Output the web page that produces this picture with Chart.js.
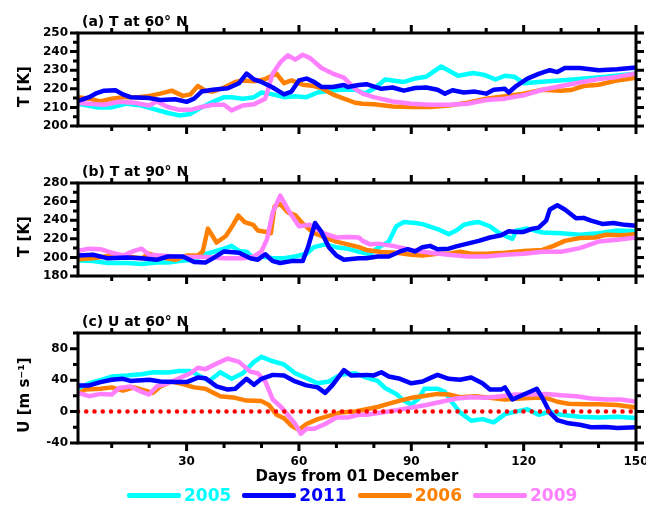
<!DOCTYPE html>
<html lang="en">
<head>
  <meta charset="UTF-8">
  <title>T and U, winters 2005-2011</title>
  <script src="https://cdn.jsdelivr.net/npm/chart.js"></script>
  <style>
    body { margin: 0; background: #fff; font-family: "DejaVu Sans", sans-serif; }
    #wrap { position: relative; width: 646px; height: 506px; overflow: hidden; }
    canvas { position: absolute; left: 0; }
    #legend { position: absolute; left: 127px; top: 485px; display: flex; align-items: center; font-weight: bold; font-size: 17px; }
    .item { display: flex; align-items: center; margin-right: 11px; }
    .item i { display: inline-block; width: 54px; height: 5px; margin-right: 3px; border-radius: 2px; }
  </style>
</head>
<body>
  <div id="wrap">
    <canvas id="panelA" width="646" height="160" style="top:0"></canvas>
    <canvas id="panelB" width="646" height="160" style="top:150px"></canvas>
    <canvas id="panelC" width="646" height="190" style="top:300px"></canvas>
    <div id="legend"></div>
  </div>

  <script>
    // days from 01 December
    const xMin = 1, xMax = 150;
    const xLabels = [30, 60, 90, 120, 150];
    const xMarks = [10, 20, 30, 40, 50, 60, 70, 80, 90, 100, 110, 120, 130, 140, 150];

    const years = ["2005", "2011", "2006", "2009"];
    const colors = ["#00FFFF", "#0000FF", "#FF8000", "#FF80FF"];
    const drawOrder = [3, 0, 2, 1]; // blue on top, cyan at the bottom

    // (a) T at 60N  [day, K]
    const t60_2005 = [[1,212],[6,210],[10,210],[14,212],[18,211],[22,208.7],[25,207],[28,205.7],[31,206.5],[34,210],[37,213],[40,215.5],[42,215.5],[45,214.7],[48,215.5],[50,218],[53,217],[56,215.5],[59,216],[62,215.5],[65,218],[68,219],[71,219.5],[75,219.5],[77.5,217.5],[80,220],[83,225],[88,223.7],[91,225.5],[94,226.5],[98,232],[102.5,227],[106.5,228.5],[109.5,227.5],[112.5,225],[115,227],[117.5,226.5],[120,223],[124,223.7],[133,225],[142,226.5],[150,228.2]];
    const t60_2011 = [[1,213.5],[4,215.5],[6,217.7],[8,219],[11,219.2],[13,217],[15,215.5],[20,215],[23,214],[27,214.4],[30,213],[32,214.7],[34,218.5],[37,219.5],[41,220.3],[44,223],[46,228.2],[48,225],[50,223.7],[53,220.7],[56,217],[58,218.5],[60,224.5],[62,225.5],[64,223.7],[66,221],[69,221],[72,222],[73,221],[76,222],[78,222.5],[82,220],[85,220.7],[88,219],[91,220.4],[94,220.7],[97,219.5],[99,217.4],[101,219.2],[104,218],[107,218.5],[110,217.4],[112,219.5],[115,220],[116,218],[118,221.5],[121,225.5],[124,228],[127,230],[129,229],[131,231.2],[135,231.2],[140,230],[145,230.5],[150,231.5]];
    const t60_2006 = [[1,215.5],[4,214.7],[7,213.2],[10,214.7],[13,215.5],[17,215.5],[20,216.2],[23,217.4],[26,219],[29,216.2],[31,217],[33,221.5],[35,219],[37,218.5],[40,220.7],[43,223.7],[45,224.5],[48,224],[51,225.2],[54,228.2],[56,223],[58,224.5],[61,222.2],[64,221.5],[66,220.4],[69,217],[72,214.7],[75,212.5],[77,212],[80,211.7],[85,210.5],[90,210.2],[95,210.2],[100,211],[105,212.5],[110,214.7],[115,216],[120,217.4],[125,219.5],[130,219],[133,219.5],[136,221.5],[140,222.2],[145,224.5],[150,226]];
    const t60_2009 = [[1,212.5],[4,212],[8,211.4],[12,213],[16,212.5],[20,211],[22,213.2],[25,210.2],[28,208.7],[31,208.7],[34,210.2],[37,211.4],[40,211.4],[42,208.4],[45,211],[48,211.7],[51,214.7],[53,228.2],[55,234.2],[57,238],[59,235.7],[61,238.3],[63,236.5],[66,231.2],[69,228.2],[72,226],[75,220],[77,217.4],[80,215.5],[85,213.2],[90,212],[95,211.4],[100,211.4],[105,212],[110,214],[115,214.7],[120,216.5],[125,219.5],[130,221.5],[135,223.4],[140,225.2],[145,226.4],[150,228.2]];

    // (b) T at 90N  [day, K]
    const t90_2005 = [[1,196.8],[5,196],[9,194],[14,194],[18,193],[22,194.4],[25,194.4],[28,196],[32,197.4],[35,203.4],[37,205.8],[40,209.4],[42,212.4],[44,207],[46,206],[48,199],[50,201],[53,199],[56,199],[59,201],[62,204],[64,211],[67,214],[70,211],[73,209.4],[76,206],[79,203.4],[81,210],[84,217],[86,233.5],[88,238],[91,237],[93,235.8],[97,230.5],[100,225],[102,229],[104,235],[106,237],[108,238],[111,233.5],[113,227.4],[116,221.4],[117,220],[118,229],[121,231],[125,226.8],[130,226],[135,224.4],[140,226],[145,229],[150,228]];
    const t90_2011 = [[1,202],[5,202.8],[9,199],[14,200],[18,199],[22,197.4],[25,201],[29,201],[32,195],[35,194.4],[37,199],[40,206.4],[44,205],[47,199],[49,197.4],[51,203.4],[53,196],[55,194],[58,196],[61,196],[62.5,212],[64.3,237],[66,227.4],[68,211],[70,202],[72,197.4],[76,199],[78,199],[81,201],[84,201],[87,206.4],[89,208.8],[91,206.4],[93,211],[95,212.4],[97,208.8],[100,209.4],[102,211.8],[105,214.8],[108,217.8],[111,221.4],[114,223.8],[116,228],[118,227.4],[120,227.4],[122,230.5],[124,232],[126,239.5],[127,251.5],[129,256],[131,251.5],[134,242],[136,242.5],[138,239.5],[141,236],[144,237],[147,235],[150,234]];
    const t90_2006 = [[1,198],[5,199],[10,202],[14,201],[18,199],[20,204],[23,200],[27,197.4],[30,202],[33,202],[34.3,206.4],[35.7,231],[38,216],[40.5,223],[42.4,235],[43.8,245],[45.5,238],[47.8,235],[49,229],[51.3,227.4],[52.5,226],[53.5,255],[55,257.5],[57,248.5],[59,245.5],[61,236.5],[64,226],[67,221.4],[70,217],[73,214],[76,211],[78,208],[82,205.8],[86,205],[90,202.8],[93,202],[97,204],[100,204],[103,206],[106,204],[110,204],[115,205],[120,207],[125,208],[128,212.4],[131,217.8],[135,220.8],[139,221.4],[142,224.4],[146,223.8],[150,225]];
    const t90_2009 = [[1,207],[4,209.4],[7,208.8],[10,205],[13,202],[16,207],[18,209.4],[20,202.8],[23,202],[27,201],[30,200.4],[35,200.4],[40,199],[45,199],[48,201],[50,206.4],[51.5,220],[53,248.5],[55,266.5],[57.5,248.5],[60,233.5],[63,235],[66.5,226],[70,221.4],[73,222],[76,221.4],[77,217.8],[79,214],[81,214.8],[85,212.4],[90,208],[95,205],[100,202.8],[105,201],[110,201],[115,202.8],[120,204],[125,206],[130,206],[135,210],[140,217],[145,219],[150,221.4]];

    // (c) U at 60N  [day, m/s]
    const u60_2005 = [[1,29],[4,36],[7,40],[10,44.6],[14,45.8],[18,47.5],[21,50],[25,49.6],[28,51.7],[31,51.7],[33,46.7],[36,39],[39,50],[42,41.7],[45,48.8],[48,63.3],[50,69.6],[53,64],[56,60],[59,48.8],[62,42.5],[65,36],[68,38.3],[71,46.7],[75,48.8],[78,43.3],[81,39],[83,30],[86,22.5],[88,14],[90,9],[92,16.7],[93.5,29],[97,29],[99,25],[101,11],[103,-1],[106,-11.7],[109,-9.6],[112,-13.7],[115,-3.3],[118,0],[121,3],[124,-4],[127,0],[130,-4],[135,-6.7],[140,-7.5],[145,-6.7],[150,-8.3]];
    const u60_2011 = [[1,33.3],[4,33.3],[7,37.5],[10,40.4],[13,41.7],[15,39],[20,40.4],[23,38.3],[27,37.5],[30,37.5],[33,43.3],[35,42.5],[38,32],[41,28],[43,29],[46,41.7],[48,34],[50,41.7],[53,46.7],[56,45.8],[59,38.3],[62,33.3],[65,30.8],[67,23.8],[69,34],[72,52.9],[74,45.8],[78,46.7],[80,46],[82,50],[84,44.6],[87,41.7],[90,36],[93,38.3],[95,42.5],[97,46.7],[100,41.7],[103,40.4],[106,43.3],[109,36],[111,28],[114,28],[115,30.8],[117,15.4],[120,21.7],[122,25.8],[123.5,29],[125,17.5],[127,-1.3],[129,-10.8],[132,-15],[135,-16.7],[138,-20],[142,-19.5],[145,-20.8],[150,-20]];
    const u60_2006 = [[1,22.5],[3,28],[7,29],[10,30.8],[13,26.7],[16,30.8],[19,26.7],[21,23.8],[23,32],[26,38.3],[29,35],[32,30.8],[35,29],[39,19.6],[43,17.5],[46,14],[50,13.3],[52,8.3],[54,-4],[56,-8.3],[58,-18],[60,-23.3],[62,-15.8],[65,-9.6],[68,-5.4],[71,-1.3],[75,0],[78,3],[81,5.8],[84,10],[87,14],[90,17.5],[93,19.6],[97,22.5],[100,21.7],[103,18.3],[107,19.6],[111,17.5],[115,15.4],[119,16.7],[123,17.5],[126,17.5],[129,12.5],[132,10],[136,9.2],[140,9.2],[145,8.3],[150,5]];
    const u60_2009 = [[1,23.8],[4,19.6],[7,22.5],[10,21.7],[12,30],[15,32],[18,25],[20,21.7],[22,32],[25,36],[28,42.5],[31,48.8],[33,55.8],[35,54],[38,61],[41,67.5],[44,63.3],[47,50.8],[49,48.8],[51,38.3],[53,15.4],[55,7],[57,-4],[59,-15.8],[60.5,-28.3],[62,-22],[64,-22],[67,-15.8],[70,-7.5],[73,-7.5],[76,-4],[78,-4],[82,-1.3],[86,1.7],[90,5],[94,8.3],[98,12.5],[102,16.7],[106,18.3],[110,17.5],[114,19.6],[118,21.7],[122,21.7],[126,22.5],[130,20.8],[134,19.6],[138,16.7],[142,15.4],[146,15.4],[150,12.5]];
    const zeroLine = [[xMin, 0], [xMax, 0]];

    const tAxis60 = { min: 200, max: 250, labels: [200, 210, 220, 230, 240, 250], marks: [200, 205, 210, 215, 220, 225, 230, 235, 240, 245, 250] };
    const tAxis90 = { min: 180, max: 280, labels: [180, 200, 220, 240, 260, 280], marks: [180, 190, 200, 210, 220, 230, 240, 250, 260, 270, 280] };
    const uAxis60 = { min: -40, max: 100, labels: [-40, 0, 40, 80], marks: [-40, -20, 0, 20, 40, 60, 80, 100] };

    Chart.defaults.font.family = '"DejaVu Sans", sans-serif';
    Chart.defaults.font.weight = "bold";
    Chart.defaults.color = "#000";

    // frame, outward tick marks, panel label and y title
    const framePlugin = {
      id: "frame",
      afterDraw(chart, args, opts) {
        const { ctx, chartArea: a, scales: { x, y } } = chart;
        ctx.save();
        ctx.strokeStyle = "#000";
        ctx.lineWidth = 3;
        ctx.strokeRect(a.left, a.top, a.right - a.left, a.bottom - a.top);
        ctx.beginPath();
        xMarks.forEach(v => {
          const px = x.getPixelForValue(v);
          const len = xLabels.includes(v) ? 8 : 5;
          ctx.moveTo(px, a.bottom); ctx.lineTo(px, a.bottom + len);
          ctx.moveTo(px, a.top); ctx.lineTo(px, a.top - len);
        });
        opts.axis.marks.forEach(v => {
          const py = y.getPixelForValue(v);
          const len = opts.axis.labels.includes(v) ? 8 : 5;
          ctx.moveTo(a.left, py); ctx.lineTo(a.left - len, py);
          ctx.moveTo(a.right, py); ctx.lineTo(a.right + len, py);
        });
        ctx.stroke();

        ctx.fillStyle = "#000";
        ctx.font = 'bold 14px "DejaVu Sans"';
        ctx.textAlign = "left";
        ctx.textBaseline = "alphabetic";
        ctx.fillText(opts.label, a.left + 4, a.top - 7);

        ctx.font = 'bold 15px "DejaVu Sans"';
        ctx.translate(25, (a.top + a.bottom) / 2 + 7);
        ctx.rotate(-Math.PI / 2);
        ctx.textAlign = "center";
        ctx.textBaseline = "middle";
        ctx.fillText(opts.yTitle, 0, 0);
        ctx.restore();
      }
    };

    function toPoints(arr) {
      return arr.map(p => ({ x: p[0], y: p[1] }));
    }

    function makePanel(id, label, yTitle, axis, series, showX) {
      const datasets = series.map((s, i) => ({
        label: years[i],
        data: toPoints(s),
        borderColor: colors[i],
        borderWidth: 4.5,
        pointRadius: 0,
        tension: 0,
        borderJoinStyle: "round",
        borderCapStyle: "round",
        order: drawOrder[i]
      }));
      if (showX) {
        // red dotted zero line in the wind panel
        datasets.push({
          label: "zero",
          data: toPoints(zeroLine),
          borderColor: "#FF0000",
          borderWidth: 4.5,
          borderDash: [0, 8.25],
          borderCapStyle: "round",
          pointRadius: 0,
          order: -1
        });
      }
      const canvasH = document.getElementById(id).height;
      return new Chart(document.getElementById(id), {
        type: "line",
        data: { datasets },
        options: {
          responsive: false,
          animation: false,
          layout: { padding: { top: 33, right: 10, left: 0, bottom: showX ? 0 : canvasH - 143 } },
          plugins: {
            legend: { display: false },
            tooltip: { enabled: false },
            frame: { label, yTitle, axis }
          },
          scales: {
            x: {
              type: "linear",
              min: xMin,
              max: xMax,
              display: showX,
              afterBuildTicks: s => { s.ticks = xLabels.map(v => ({ value: v })); },
              afterFit: s => { s.height = canvasH - 143; s.paddingLeft = 0; s.paddingRight = 0; },
              grid: { display: false, drawTicks: false },
              border: { display: false },
              ticks: { padding: 12, font: { size: 12, weight: "bold" }, color: "#000", maxRotation: 0 },
              title: { display: true, text: "Days from 01 December", font: { size: 15, weight: "bold" }, color: "#000", padding: { top: 0, bottom: 4 } }
            },
            y: {
              type: "linear",
              min: axis.min,
              max: axis.max,
              afterBuildTicks: s => { s.ticks = axis.labels.map(v => ({ value: v })); },
              afterFit: s => { s.width = 78; },
              grid: { display: false, drawTicks: false },
              border: { display: false },
              ticks: { padding: 10, font: { size: 12, weight: "bold" }, color: "#000" }
            }
          }
        },
        plugins: [framePlugin]
      });
    }

    makePanel("panelA", "(a) T at 60° N", "T [K]", tAxis60, [t60_2005, t60_2011, t60_2006, t60_2009], false);
    makePanel("panelB", "(b) T at 90° N", "T [K]", tAxis90, [t90_2005, t90_2011, t90_2006, t90_2009], false);
    makePanel("panelC", "(c) U at 60° N", "U [m s⁻¹]", uAxis60, [u60_2005, u60_2011, u60_2006, u60_2009], true);

    // legend below the last panel
    const legend = document.getElementById("legend");
    years.forEach((yr, i) => {
      const item = document.createElement("span");
      item.className = "item";
      item.innerHTML = `<i style="background:${colors[i]}"></i><span style="color:${colors[i]}">${yr}</span>`;
      legend.appendChild(item);
    });
  </script>
</body>
</html>
